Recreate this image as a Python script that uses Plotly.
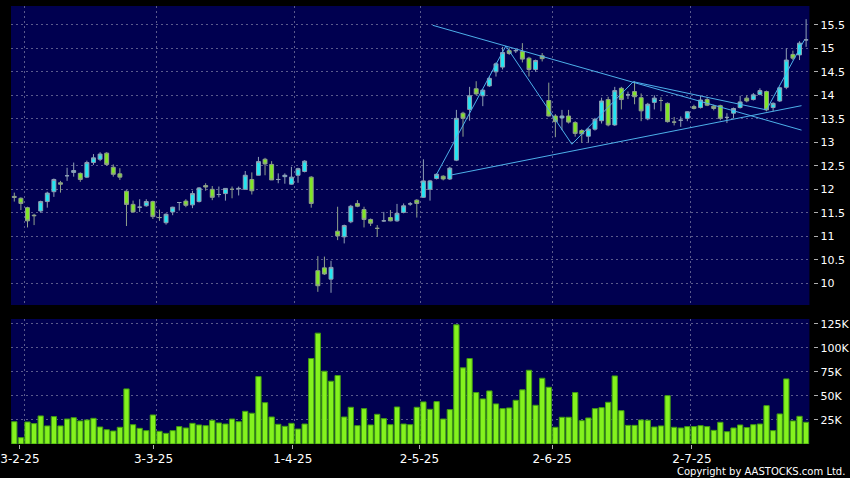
import plotly.graph_objects as go

# ---------------- data ----------------
idx = list(range(121))

opens = [11.85, 11.81, 11.61, 11.45, 11.54, 11.74, 11.95, 12.14, 12.29, 12.36,
         12.34, 12.26, 12.57, 12.64, 12.77, 12.47, 12.33, 11.96, 11.68, 11.62,
         11.65, 11.74, 11.40, 11.29, 11.52, 11.72, 11.75, 11.67, 11.74, 12.08,
         12.00, 11.89, 11.91, 12.00, 12.01, 12.00, 12.21, 12.30, 12.64, 12.53,
         12.21, 12.27, 12.11, 12.30, 12.38, 12.26, 10.27, 10.33, 10.09, 11.11,
         10.99, 11.31, 11.70, 11.57, 11.36, 11.17, 11.33, 11.40, 11.33, 11.51,
         11.69, 11.77, 11.83, 12.00, 12.23, 12.28, 12.22, 12.62, 13.62, 13.70,
         14.14, 13.99, 14.20, 14.50, 14.60, 14.95, 14.95, 14.93, 14.79, 14.55,
         14.84, 13.89, 13.56, 13.52, 13.56, 13.42, 13.25, 13.13, 13.28, 13.46,
         13.91, 13.37, 14.15, 14.01, 14.08, 13.95, 13.50, 13.85, 13.89, 13.83,
         13.43, 13.47, 13.51, 13.76, 13.74, 13.91, 13.77, 13.78, 13.53, 13.62,
         13.74, 13.94, 13.91, 14.02, 14.08, 13.74, 13.88, 14.17, 14.87, 14.86,
         15.18]
highs = [11.93, 11.83, 11.63, 11.48, 11.76, 11.95, 12.23, 12.18, 12.46, 12.57,
         12.36, 12.61, 12.75, 12.79, 12.79, 12.53, 12.45, 11.98, 11.76, 11.79,
         11.79, 11.76, 11.57, 11.49, 11.63, 11.73, 11.79, 11.97, 12.05, 12.13,
         12.07, 12.06, 12.02, 12.06, 12.06, 12.39, 12.36, 12.69, 12.67, 12.60,
         12.34, 12.34, 12.48, 12.46, 12.62, 12.28, 10.58, 10.57, 10.48, 11.63,
         11.25, 11.67, 11.77, 11.63, 11.38, 11.24, 11.52, 11.56, 11.69, 11.70,
         11.73, 11.79, 12.64, 12.20, 12.34, 12.30, 12.48, 13.69, 13.65, 14.18,
         14.30, 14.13, 14.40, 14.70, 15.03, 15.01, 14.99, 15.11, 14.82, 14.76,
         14.90, 14.27, 13.60, 13.69, 13.69, 13.45, 13.28, 13.30, 13.52, 13.95,
         13.97, 14.18, 14.18, 14.08, 14.30, 14.04, 13.84, 14.00, 13.96, 13.85,
         13.54, 13.55, 13.66, 13.80, 13.99, 13.96, 13.80, 13.80, 13.62, 13.74,
         13.99, 14.00, 14.05, 14.15, 14.10, 13.85, 14.18, 15.00, 14.95, 15.15,
         15.62]
lows = [11.74, 11.56, 11.19, 11.24, 11.50, 11.61, 11.84, 11.93, 12.18, 12.27,
        12.16, 12.24, 12.52, 12.60, 12.50, 12.27, 12.20, 11.22, 11.50, 11.52,
        11.63, 11.37, 11.33, 11.25, 11.45, 11.55, 11.62, 11.60, 11.72, 11.97,
        11.77, 11.83, 11.76, 11.81, 11.87, 12.00, 11.89, 12.30, 12.30, 12.20,
        12.13, 12.12, 12.10, 12.14, 12.36, 11.61, 9.82, 10.18, 9.80, 10.92,
        10.85, 11.28, 11.62, 11.19, 11.22, 10.99, 11.31, 11.32, 11.31, 11.49,
        11.65, 11.40, 11.82, 11.76, 12.21, 12.19, 12.20, 12.60, 13.12, 13.46,
        14.00, 13.77, 14.18, 14.40, 14.55, 14.86, 14.90, 14.70, 14.40, 14.50,
        14.72, 13.55, 13.11, 13.26, 13.40, 13.12, 12.99, 12.99, 13.25, 13.40,
        13.34, 13.35, 13.70, 13.92, 13.81, 13.45, 13.47, 13.70, 13.66, 13.42,
        13.36, 13.33, 13.45, 13.70, 13.72, 13.77, 13.68, 13.47, 13.41, 13.51,
        13.72, 13.85, 13.89, 14.00, 13.66, 13.66, 13.86, 14.13, 14.75, 14.75,
        15.03]
closes = [11.83, 11.70, 11.33, 11.44, 11.74, 11.92, 12.21, 12.11, 12.29, 12.40,
          12.21, 12.57, 12.67, 12.75, 12.53, 12.32, 12.26, 11.68, 11.52, 11.62,
          11.74, 11.42, 11.40, 11.47, 11.62, 11.72, 11.66, 11.91, 12.03, 12.05,
          11.83, 11.89, 12.02, 12.00, 12.02, 12.30, 11.97, 12.59, 12.54, 12.20,
          12.21, 12.30, 12.26, 12.44, 12.60, 11.70, 9.95, 10.20, 10.34, 11.01,
          11.23, 11.64, 11.64, 11.36, 11.28, 11.17, 11.33, 11.33, 11.49, 11.65,
          11.69, 11.70, 12.18, 12.18, 12.32, 12.22, 12.45, 13.51, 13.51, 13.99,
          14.03, 14.11, 14.36, 14.67, 14.91, 14.89, 14.95, 14.77, 14.55, 14.74,
          14.78, 13.56, 13.44, 13.56, 13.43, 13.19, 13.18, 13.28, 13.49, 13.88,
          13.37, 14.10, 13.91, 14.01, 13.97, 13.67, 13.81, 13.94, 13.89, 13.44,
          13.43, 13.47, 13.65, 13.72, 13.90, 13.79, 13.72, 13.51, 13.53, 13.72,
          13.86, 13.88, 14.01, 14.10, 13.69, 13.83, 14.16, 14.75, 14.79, 15.11,
          15.18]
volumes_k = [23.2, 6.6, 22.9, 21.2, 29.2, 18.8, 28.5, 18.8, 26.0, 27.4,
             24.0, 25.0, 26.7, 17.7, 14.9, 13.5, 17.4, 57.3, 20.1, 16.3,
             13.9, 30.2, 13.2, 11.1, 13.9, 18.1, 16.7, 21.5, 19.8, 19.1,
             24.7, 21.9, 20.8, 26.0, 23.2, 34.0, 32.0, 70.1, 43.0, 28.1,
             20.5, 18.4, 21.5, 15.6, 20.8, 88.9, 115.3, 75.7, 65.3, 71.2,
             28.1, 38.2, 19.1, 36.8, 19.8, 30.9, 26.4, 20.1, 38.5, 20.8,
             20.1, 38.2, 43.8, 36.1, 44.1, 26.0, 35.8, 124.0, 79.2, 88.9,
             53.5, 46.9, 55.2, 41.7, 36.8, 37.5, 45.5, 56.3, 76.7, 40.3,
             68.4, 59.0, 17.4, 27.8, 27.8, 53.5, 24.3, 27.1, 36.8, 37.8,
             43.4, 70.8, 34.7, 19.4, 19.4, 25.0, 24.7, 17.7, 18.8, 50.3,
             17.4, 16.7, 18.1, 18.1, 19.1, 18.1, 14.2, 22.6, 12.8, 16.7,
             19.8, 17.1, 20.1, 20.8, 39.9, 13.9, 31.3, 67.7, 24.0, 28.8,
             22.6]
volumes = [v * 1000 for v in volumes_k]

# month-start separators (grid) and the date labels under them
x_grid_vals = [1.5, 21.5, 42.5, 61.5, 81.5, 102.5]
x_label_vals = [0.85, 21.1, 42.2, 61.4, 81.5, 102.7]
x_tick_text = ["3-2-25", "3-3-25", "1-4-25", "2-5-25", "2-6-25", "2-7-25"]
price_ticks = [10, 10.5, 11, 11.5, 12, 12.5, 13, 13.5, 14, 14.5, 15, 15.5]
price_tick_text = ["10", "10.5", "11", "11.5", "12", "12.5", "13", "13.5", "14", "14.5", "15", "15.5"]
vol_ticks = [25000, 50000, 75000, 100000, 125000]
vol_tick_text = ["25K", "50K", "75K", "100K", "125K"]

# drawn trend lines
zigzag_x = [64, 74.5, 84.5, 93.8, 114, 119.7]
zigzag_y = [12.32, 15.05, 12.96, 14.29, 13.69, 15.17]
upper_x = [63.4, 119.3]
upper_y = [15.49, 13.26]
lower_x = [66, 119.3]
lower_y = [12.30, 13.78]

# ---------------- styling ----------------
NAVY = "#000050"
GRID = "#5a5a8c"
LINE_COL = "#4db0ea"
FONT = dict(family="DejaVu Sans", size=11, color="#ffffff")
XFONT = dict(family="DejaVu Sans", size=12, color="#ffffff")
X_RANGE = [-0.5, 120.5]

fig = go.Figure()

fig.add_trace(go.Candlestick(
    x=idx, open=opens, high=highs, low=lows, close=closes,
    increasing=dict(fillcolor="#22e6f2", line=dict(color="#8fa0b4", width=1)),
    decreasing=dict(fillcolor="#80e626", line=dict(color="#8fa08c", width=1)),
    whiskerwidth=0, xaxis="x", yaxis="y", showlegend=False, hoverinfo="skip",
))

for lx, ly in [(zigzag_x, zigzag_y), (upper_x, upper_y), (lower_x, lower_y)]:
    fig.add_trace(go.Scatter(x=lx, y=ly, mode="lines",
                             line=dict(color=LINE_COL, width=1),
                             xaxis="x", yaxis="y", showlegend=False, hoverinfo="skip"))

fig.add_trace(go.Bar(
    x=idx, y=volumes, width=0.8,
    marker=dict(color="#84f21e", line=dict(color="#3f9a12", width=1)),
    xaxis="x", yaxis="y2", showlegend=False, hoverinfo="skip",
))

# invisible trace so the label axis (x3) is drawn under the volume panel
fig.add_trace(go.Scatter(
    x=idx[:1], y=volumes[:1], mode="markers", marker=dict(opacity=0),
    xaxis="x3", yaxis="y2", showlegend=False, hoverinfo="skip",
))

W, H = 850, 478
ml, mr, mt, mb = 4, 0, 6, 34
pw, ph = W - ml - mr, H - mt - mb
x_right = (811 - ml) / pw
yaxis_pos = (815 - ml) / pw

fig.update_layout(
    width=W, height=H,
    margin=dict(l=ml, r=mr, t=mt, b=mb, pad=0),
    paper_bgcolor="#000000", plot_bgcolor=NAVY,
    boxgap=0.15,
    bargap=0.2,
    font=FONT,
    xaxis=dict(
        domain=[0, x_right], anchor="y2", range=X_RANGE,
        tickmode="array", tickvals=x_grid_vals, showticklabels=False,
        showgrid=True, gridcolor=GRID, griddash="2px,3px", gridwidth=1,
        ticks="", showline=False, zeroline=False,
        rangeslider=dict(visible=False), fixedrange=True,
    ),
    xaxis3=dict(
        domain=[0, x_right], anchor="y2", overlaying="x", range=X_RANGE,
        tickmode="array", tickvals=x_label_vals, ticktext=x_tick_text,
        showgrid=False, ticks="outside", ticklen=4, tickcolor="#b0b0b0",
        showline=False, zeroline=False, tickfont=XFONT,
        ticklabeloverflow="allow", fixedrange=True,
    ),
    yaxis=dict(
        domain=[(444 - 305) / ph, 1],
        anchor="free", position=yaxis_pos, side="right",
        range=[9.54, 15.90],
        tickmode="array", tickvals=price_ticks, ticktext=price_tick_text,
        showgrid=True, gridcolor=GRID, griddash="2px,3px", gridwidth=1,
        ticks="outside", ticklen=4, tickcolor="#b0b0b0",
        showline=False, zeroline=False, tickfont=FONT, fixedrange=True,
    ),
    yaxis2=dict(
        domain=[0, (444 - 319) / ph],
        anchor="free", position=yaxis_pos, side="right",
        range=[0, 130000],
        tickmode="array", tickvals=vol_ticks, ticktext=vol_tick_text,
        showgrid=True, gridcolor=GRID, griddash="2px,3px", gridwidth=1,
        ticks="outside", ticklen=4, tickcolor="#b0b0b0",
        showline=False, zeroline=False, tickfont=FONT, fixedrange=True,
    ),
    annotations=[dict(
        text="Copyright by AASTOCKS.com Ltd.", xref="paper", yref="paper",
        x=(849 - ml) / pw, y=(444 - 471) / ph, xanchor="right", yanchor="middle",
        showarrow=False, font=dict(family="DejaVu Sans", size=10, color="#ffffff"),
    )],
)

fig.write_html(
    "out.html",
    config={"displayModeBar": False},
    post_script="document.body.style.margin='0';document.body.style.background='#000';",
)
